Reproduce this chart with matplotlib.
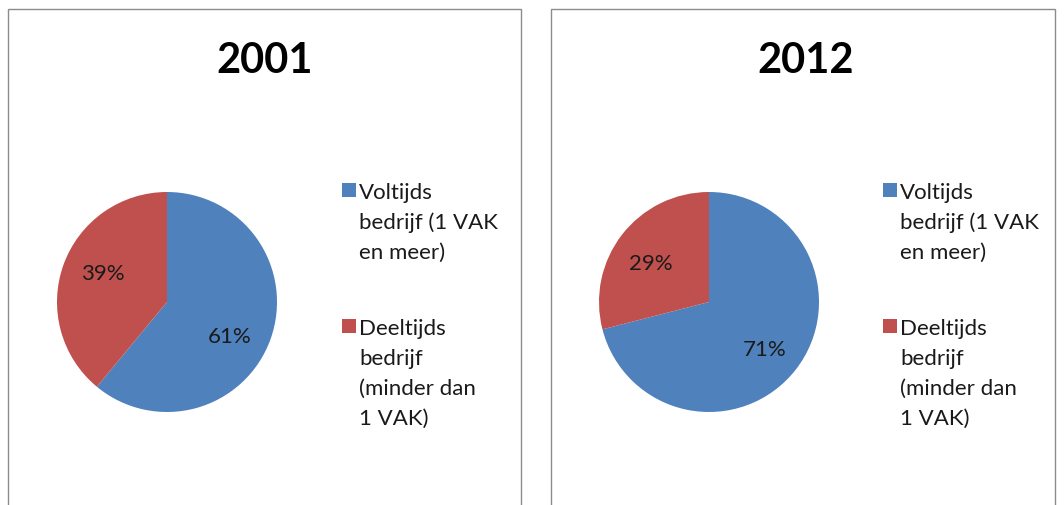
import matplotlib
matplotlib.use("Agg")
import matplotlib.pyplot as plt
from matplotlib.patches import Rectangle

years = ["2001", "2012"]
categories = ["Voltijds\nbedrijf (1 VAK\nen meer)", "Deeltijds\nbedrijf\n(minder dan\n1 VAK)"]
values_2001 = [61, 39]
values_2012 = [71, 29]
colors = ["#4F81BD", "#C0504D"]

plt.rcParams['font.family'] = ['Lato', 'DejaVu Sans']

W, H = 1064, 506
fig = plt.figure(figsize=(W / 100, H / 100), dpi=100)
fig.patch.set_facecolor("white")


def fx(px):
    return px / W


def fy(py):
    return 1 - py / H


panels = [(8, 521), (551, 1055)]
for (l, r) in panels:
    fig.patches.append(Rectangle((fx(l), fy(H + 20)), fx(r - l), fy(10) - fy(H + 20),
                                 transform=fig.transFigure, fill=False,
                                 edgecolor="#8c8c8c", linewidth=1.0))

centers = [(167, 303), (709, 303)]
radius = 110
all_vals = [values_2001, values_2012]
title_x = [265, 806]
text_x = [359, 900]
entry_baseline = [199, 335]
line_step = 30
marker_size = 14
# label placement (Excel "best fit"), as offsets from the pie centre in radius units
label_offsets = [[(0.57, -0.31), (-0.58, 0.26)],
                 [(0.51, -0.43), (-0.53, 0.35)]]

for i, (cx, cy) in enumerate(centers):
    ax = fig.add_axes([fx(cx - radius), fy(cy + radius), fx(2 * radius), (2 * radius) / H])
    wedges, texts, autotexts = ax.pie(all_vals[i], colors=colors, startangle=90,
                                      counterclock=False, autopct='%d%%',
                                      pctdistance=0.65,
                                      textprops=dict(fontsize=16, color="#1a1a1a"))
    for at, pos in zip(autotexts, label_offsets[i]):
        at.set_position(pos)
    ax.set_xlim(-1, 1)
    ax.set_ylim(-1, 1)
    ax.set_aspect('equal')
    fig.text(fx(title_x[i]), fy(61), years[i], ha='center', va='center',
             fontsize=30, fontweight='bold', color='black')
    # legend
    for j, label in enumerate(categories):
        b0 = entry_baseline[j]
        fig.patches.append(Rectangle((fx(text_x[i] - 3 - marker_size), fy(b0 - 1)),
                                     fx(marker_size), marker_size / H,
                                     transform=fig.transFigure, facecolor=colors[j],
                                     edgecolor='none'))
        for k, line in enumerate(label.split("\n")):
            fig.text(fx(text_x[i]), fy(b0 + k * line_step), line, ha='left',
                     va='baseline', fontsize=16, color="#1a1a1a")

fig.savefig("out.png", dpi=100, facecolor="white")
